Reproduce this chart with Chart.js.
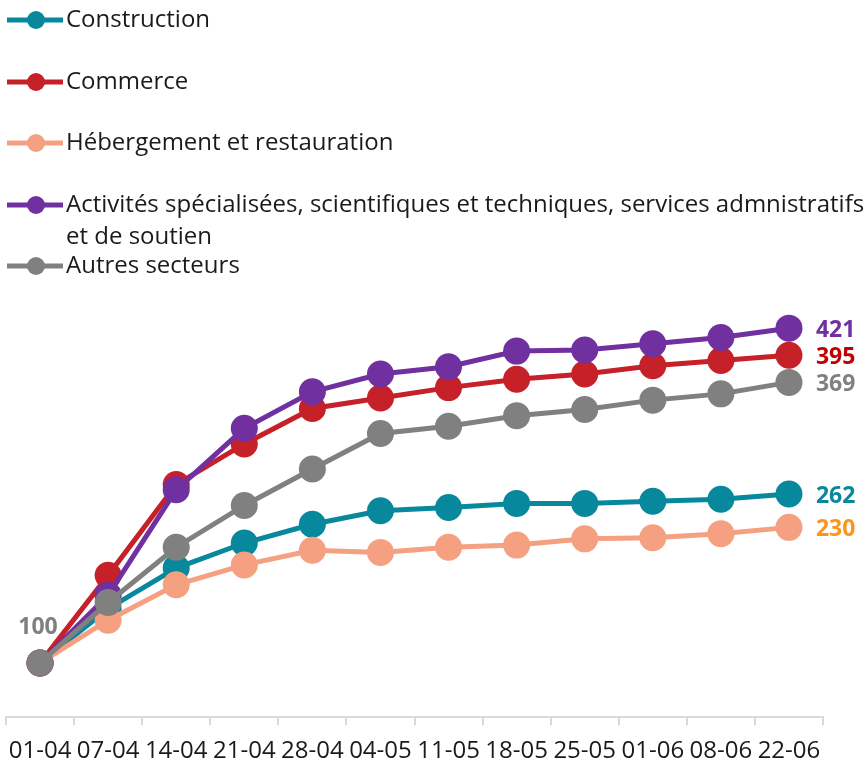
<!DOCTYPE html>
<html lang="fr">
<head>
<meta charset="UTF-8">
<title>Indices par secteur</title>
<script src="https://cdn.jsdelivr.net/npm/chart.js"></script>
<style>
  html, body { margin: 0; padding: 0; background: #fff; }
  #wrap { width: 864px; height: 767px; }
</style>
</head>
<body>
<div id="wrap"><canvas id="secteursChart" width="864" height="767"></canvas></div>
<script>
    // semaines
    const semaines = ['01-04', '07-04', '14-04', '21-04', '28-04', '04-05', '11-05', '18-05', '25-05', '01-06', '08-06', '22-06'];

    // séries (base 100 au 01-04)
    const construction = [100, 152, 191, 215, 233, 246, 249, 253, 253, 255, 257, 262];
    const commerce = [100, 184, 271, 310, 344, 354, 364, 372, 377, 385, 390, 395];
    const hebergement = [100, 141, 175, 194, 208, 206, 211, 213, 219, 220, 224, 230];
    const activites = [100, 165, 266, 325, 360, 377, 384, 399, 400, 406, 412, 421];
    const autres = [100, 158, 211, 251, 286, 320, 327, 337, 343, 352, 358, 369];

    const noms = [
        'Construction',
        'Commerce',
        'Hébergement et restauration',
        'Activités spécialisées, scientifiques et techniques, services admnistratifs\net de soutien',
        'Autres secteurs'
    ];
    const couleurs = ['#08889d', '#c62028', '#f5a081', '#7030a0', '#808080'];
    const couleursEtiquettes = ['#0a879c', '#c00000', '#ff9419', '#7030a0', '#808080'];
    const ordres = [4, 3, 2, 1, 0];

    const police = "'Open Sans', 'Noto Sans', sans-serif";

    const series = [construction, commerce, hebergement, activites, autres];

    const datasets = series.map(function (s, i) {
        return {
            label: noms[i],
            data: s,
            borderColor: couleurs[i],
            backgroundColor: couleurs[i],
            borderWidth: 5,
            pointRadius: 13.5,
            pointHoverRadius: 13.5,
            pointBorderWidth: 0,
            tension: 0,
            clip: false,
            order: ordres[i]
        };
    });

    // légende verticale en haut + étiquettes de fin
    const decorPlugin = {
        id: 'decor',
        afterDatasetsDraw: function (chart) {
            const ctx = chart.ctx;
            ctx.save();
            ctx.font = 'bold 23px ' + police;
            ctx.textBaseline = 'middle';
            ctx.textAlign = 'left';
            chart.data.datasets.forEach(function (ds, i) {
                const meta = chart.getDatasetMeta(i);
                const last = meta.data[meta.data.length - 1];
                ctx.fillStyle = couleursEtiquettes[i];
                ctx.fillText(String(ds.data[ds.data.length - 1]), last.x + 27, last.y + 2);
            });
            // 100 au départ
            const m = chart.getDatasetMeta(4);
            const p0 = m.data[0];
            ctx.textAlign = 'center';
            ctx.fillStyle = '#808080';
            ctx.fillText(String(autres[0]), p0.x - 2, p0.y - 36);
            ctx.restore();
        },
        afterDraw: function (chart) {
            const ctx = chart.ctx;
            const rows = [20, 82, 143, 205, 266];
            ctx.save();
            ctx.font = '24px ' + police;
            ctx.textBaseline = 'middle';
            ctx.textAlign = 'left';
            noms.forEach(function (nom, i) {
                const y = rows[i];
                ctx.strokeStyle = couleurs[i];
                ctx.lineWidth = 5;
                ctx.beginPath();
                ctx.moveTo(7, y);
                ctx.lineTo(63, y);
                ctx.stroke();
                ctx.fillStyle = couleurs[i];
                ctx.beginPath();
                ctx.arc(36, y, 9, 0, Math.PI * 2);
                ctx.fill();
                ctx.fillStyle = '#1a1a1a';
                nom.split('\n').forEach(function (ligne, k) {
                    ctx.fillText(ligne, 66, y + k * 32);
                });
            });
            ctx.restore();
        }
    };

    const config = {
        type: 'line',
        data: { labels: semaines, datasets: datasets },
        options: {
            responsive: false,
            animation: false,
            layout: {
                autoPadding: false,
                padding: { top: 300, left: 6, right: 41, bottom: -11 }
            },
            plugins: {
                legend: { display: false },
                tooltip: { enabled: false }
            },
            scales: {
                x: {
                    offset: true,
                    afterFit: function (scale) {
                        scale.paddingLeft = 0;
                        scale.paddingRight = 0;
                    },
                    grid: {
                        offset: true,
                        drawOnChartArea: false,
                        drawTicks: true,
                        tickLength: 8,
                        color: '#d9d9d9',
                        lineWidth: 2
                    },
                    border: { display: true, color: '#d9d9d9', width: 2 },
                    ticks: {
                        color: '#1a1a1a',
                        padding: 12,
                        maxRotation: 0,
                        autoSkip: false,
                        font: { family: police, size: 24 }
                    }
                },
                y: {
                    display: false,
                    min: 48,
                    max: 448
                }
            }
        },
        plugins: [decorPlugin]
    };

    var secteursChart = new Chart(document.getElementById('secteursChart'), config);
</script>
</body>
</html>
